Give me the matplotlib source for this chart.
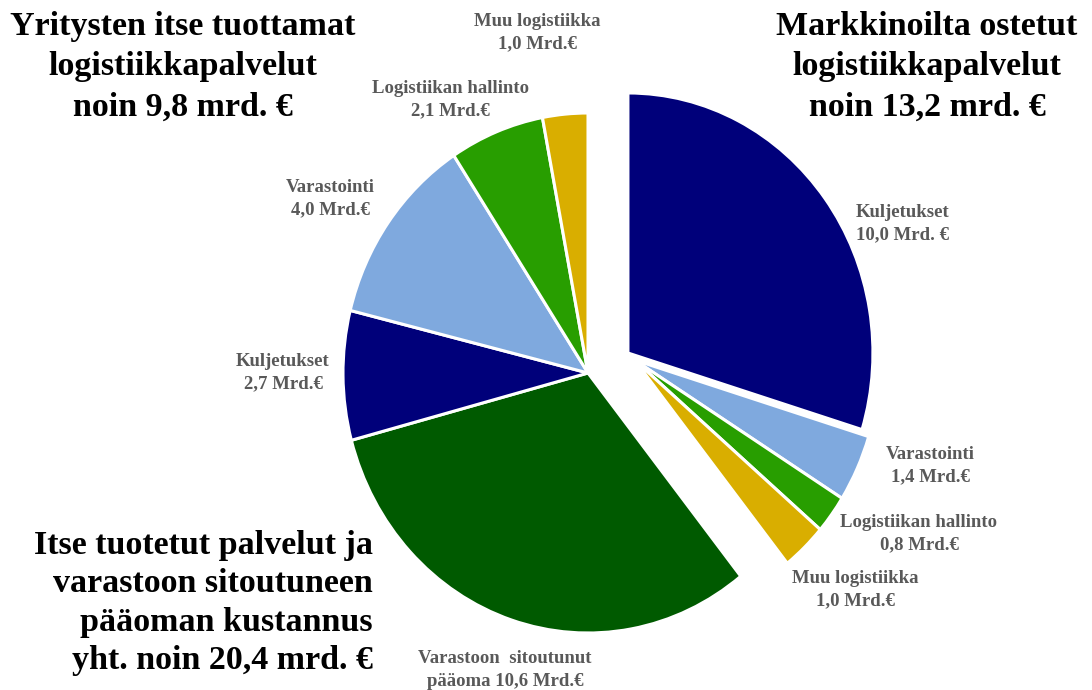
import numpy as np
import matplotlib.pyplot as plt

# Logistics costs (Mrd. €), clockwise from the top
segments = ["Kuljetukset", "Varastointi", "Logistiikan hallinto", "Muu logistiikka",
            "Varastoon sitoutunut pääoma", "Kuljetukset", "Varastointi",
            "Logistiikan hallinto", "Muu logistiikka"]
values = [10.0, 1.4, 0.8, 1.0, 10.6, 2.7, 4.0, 2.1, 1.0]
colors = ["#00007a", "#7fa9de", "#289e00", "#d9ae00", "#005a00",
          "#00007a", "#7fa9de", "#289e00", "#d9ae00"]
n_bought = 4  # first four are bought from the market (pulled out)

label_texts = ["Kuljetukset\n10,0 Mrd. €", "Varastointi\n1,4 Mrd.€",
               "Logistiikan hallinto\n0,8 Mrd.€", "Muu logistiikka\n1,0 Mrd.€",
               "Varastoon  sitoutunut\npääoma 10,6 Mrd.€", "Kuljetukset\n2,7 Mrd.€",
               "Varastointi\n4,0 Mrd.€", "Logistiikan hallinto\n2,1 Mrd.€",
               "Muu logistiikka\n1,0 Mrd.€"]
# label centres in pixels (x, y from top)
label_pos = [(903, 224), (930, 466), (919, 534), (855, 590),
             (505, 670), (283, 373), (330, 199), (450, 100), (537, 33)]

W, H = 1092, 690
fig = plt.figure(figsize=(W / 100, H / 100), dpi=100)
ax = fig.add_axes([0, 0, 1, 1])

wedges, _ = ax.pie(values, colors=colors, startangle=90, counterclock=False,
                   wedgeprops=dict(edgecolor="white", linewidth=2.2))

# pull the bought services out to the right
wedges[0].set_center((0.163, 0.077))
for w in wedges[1:n_bought]:
    w.set_center((0.19, 0.05))

ax.set_aspect("auto")
ax.set_xlim(-588 / 245, (W - 588) / 245)
ax.set_ylim(-(H - 373) / 260, 373 / 260)
ax.axis("off")

serif = "Liberation Serif"
for txt, (px, py) in zip(label_texts, label_pos):
    fig.text(px / W, 1 - py / H, txt, ha="center", va="center", fontsize=13.5,
             fontweight="bold", color="#595959", family=serif, linespacing=1.4)

fig.text(183 / W, 1 - 67 / H, "Yritysten itse tuottamat\nlogistiikkapalvelut\nnoin 9,8 mrd. €",
         ha="center", va="center", fontsize=24.5, fontweight="bold", family=serif,
         linespacing=1.38)
fig.text(927 / W, 1 - 67 / H, "Markkinoilta ostetut\nlogistiikkapalvelut\nnoin 13,2 mrd. €",
         ha="center", va="center", fontsize=24.5, fontweight="bold", family=serif,
         linespacing=1.38)
fig.text(373 / W, 1 - 603 / H,
         "Itse tuotetut palvelut ja\nvarastoon sitoutuneen\npääoman kustannus\nyht. noin 20,4 mrd. €",
         ha="right", va="center", fontsize=24.5, fontweight="bold", family=serif,
         linespacing=1.3, multialignment="right")

fig.savefig("out.png", dpi=100, facecolor="white")
